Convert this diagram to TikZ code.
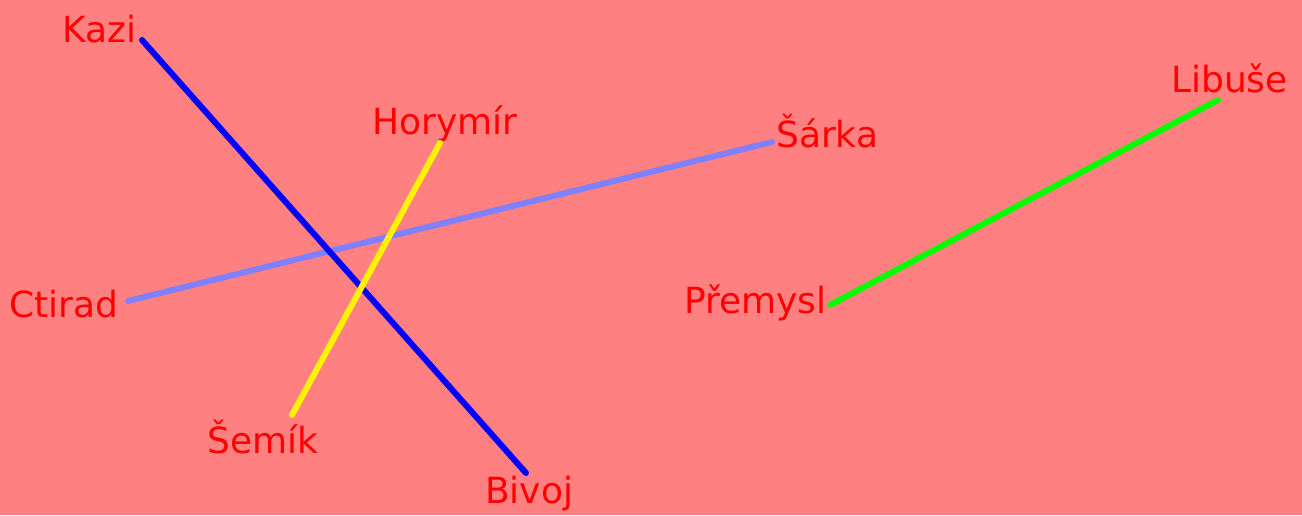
\documentclass[tikz,border=0pt]{standalone}
\usepackage{fontspec}
\setmainfont{DejaVu Sans}
\definecolor{bgpink}{HTML}{FF8080}
\definecolor{lightblue}{HTML}{8080FF}
\definecolor{brightgreen}{HTML}{00FF00}
\tikzset{
  hero/.style={text=red, inner sep=0pt, anchor=base west, font=\fontsize{36}{42}\selectfont},
  bond/.style={line width=6pt, line cap=round}
}
\begin{document}
\begin{tikzpicture}[x=1pt, y=-1pt]
\fill[bgpink] (0,0) rectangle (1302,515);
\useasboundingbox (0,0) rectangle (1302,515);
\node[hero] (Kazi) at (62,42) {Kazi};
\node[hero] (Bivoj) at (485,503) {Bivoj};
\node[hero] (Horymir) at (372,134) {Horymír};
\node[hero] (Semik) at (207,453) {Šemík};
\node[hero] (Ctirad) at (9,317) {Ctirad};
\node[hero] (Sarka) at (776,147) {Šárka};
\node[hero] (Premysl) at (684,313) {Přemysl};
\node[hero] (Libuse) at (1171,92) {Libuše};
\coordinate (Kazi_e) at (142,40);
\coordinate (Bivoj_e) at (526,473);
\coordinate (Horymir_e) at (440,143);
\coordinate (Semik_e) at (292,415);
\coordinate (Ctirad_e) at (128,301);
\coordinate (Sarka_e) at (772,142);
\coordinate (Premysl_e) at (830,305);
\coordinate (Libuse_e) at (1218,100);
\draw[bond, lightblue] (Ctirad_e) -- (Sarka_e);
\draw[bond, blue] (Kazi_e) -- (Bivoj_e);
\draw[bond, yellow] (Semik_e) -- (Horymir_e);
\draw[bond, brightgreen] (Premysl_e) -- (Libuse_e);
\end{tikzpicture}
\end{document}
